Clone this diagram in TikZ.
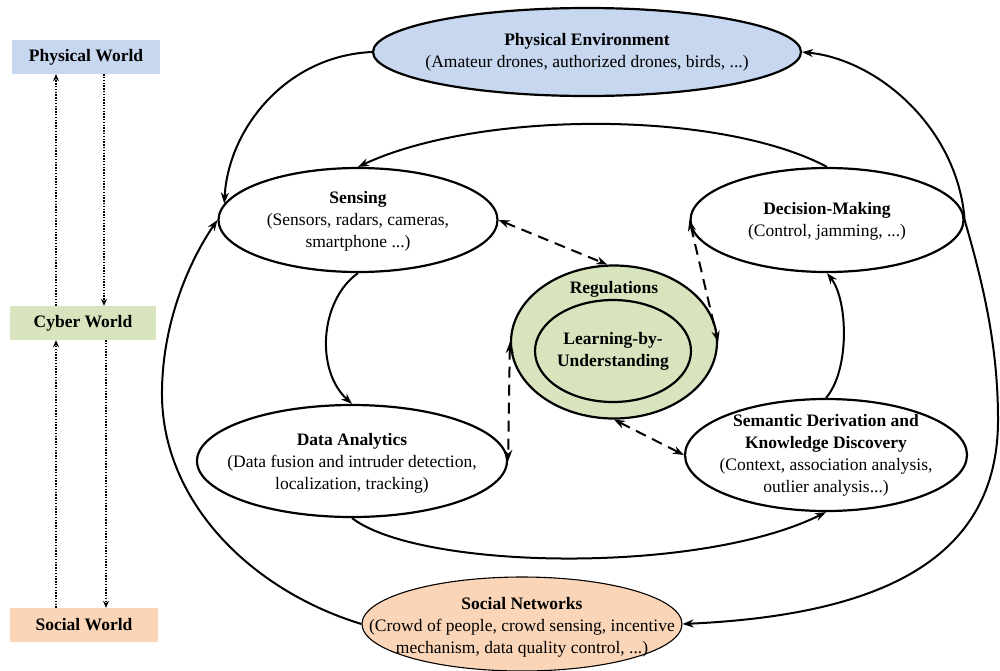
\documentclass[tikz,border=0pt]{standalone}
\usepackage{fontspec}
\setmainfont{Liberation Serif}
\usetikzlibrary{shapes.geometric,arrows.meta}
\definecolor{physblue}{HTML}{C6D7EF}
\definecolor{cybgreen}{HTML}{D7E4BD}
\definecolor{socorange}{HTML}{FBD5B7}
\begin{document}
\begin{tikzpicture}[x=1pt,y=-1pt,
  ell/.style={ellipse,draw,line width=2.2pt,inner sep=0pt},
  txt/.style={align=center,font=\fontsize{17.5}{22}\selectfont,inner sep=0pt},
  world/.style={minimum height=34pt,inner sep=0pt,font=\fontsize{17.5}{21}\selectfont\bfseries},
  flow/.style={line width=2pt,-{Stealth[length=11pt,width=8pt]}},
  link/.style={line width=2pt,dash pattern=on 11pt off 7pt,{Stealth[length=11pt,width=8pt]}-{Stealth[length=11pt,width=8pt]}},
  dotarrow/.style={line width=1.4pt,dash pattern=on 1.4pt off 1.4pt,-{Stealth[length=7pt,width=6pt]}}]
\useasboundingbox (0,0) rectangle (1000,670);
% left column
\node[world,fill=physblue,minimum width=148pt] (pw) at (86,57) {Physical World};
\node[world,fill=cybgreen,minimum width=146pt] (cw) at (83,323) {Cyber World};
\node[world,fill=socorange,minimum width=148pt] (sw) at (84,625) {Social World};
\draw[dotarrow] ([xshift=-27pt]cw.north) -- ([xshift=-30pt]pw.south);
\draw[dotarrow] ([xshift=18pt]pw.south) -- ([xshift=21pt]cw.north);
\draw[dotarrow] ([xshift=-28pt]sw.north) -- ([xshift=-27pt]cw.south);
\draw[dotarrow] ([xshift=23pt]cw.south) -- ([xshift=22pt]sw.north);
% ellipses
\node[ell,fill=physblue,minimum width=428pt,minimum height=88pt] (pe) at (587,52) {};
\node[txt] (pet) at (587,52) {\textbf{Physical Environment}\\(Amateur drones, authorized drones, birds, ...)};
\node[ell,minimum width=279pt,minimum height=104pt] (sens) at (358,220) {};
\node[txt] (senst) at (358,221) {\textbf{Sensing}\\(Sensors, radars, cameras,\\smartphone ...)};
\node[ell,minimum width=273pt,minimum height=104pt] (dec) at (827,220) {};
\node[txt] (dect) at (827,221) {\textbf{Decision-Making}\\(Control, jamming, ...)};
\node[ell,fill=cybgreen,minimum width=206pt,minimum height=153pt] (reg) at (614,342) {};
\node[ell,minimum width=156pt,minimum height=102pt] (lbu) at (613,351) {};
\node[txt,font=\fontsize{17.5}{22}\selectfont\bfseries] (regt) at (614,289) {Regulations};
\node[txt,font=\fontsize{17.5}{22}\selectfont\bfseries] (lbut) at (613,351) {Learning-by-\\Understanding};
\node[ell,minimum width=310pt,minimum height=112pt] (da) at (352,461) {};
\node[txt] (dat) at (352,463) {\textbf{Data Analytics}\\(Data fusion and intruder detection,\\localization, tracking)};
\node[ell,minimum width=282pt,minimum height=112pt] (sem) at (826,455) {};
\node[txt] (semt) at (826,455) {\textbf{Semantic Derivation and}\\\textbf{Knowledge Discovery}\\(Context, association analysis,\\outlier analysis...)};
\node[ell,line width=1.1pt,fill=socorange,minimum width=320pt,minimum height=94pt] (soc) at (522,624) {};
\node[txt] (soct) at (522,627) {\textbf{Social Networks}\\(Crowd of people, crowd sensing, incentive\\mechanism, data quality control, ...)};
% helper coordinates
\coordinate (lb) at (162,390);
\coordinate (rb) at (998,420);
% solid flows
\draw[flow] (pe.west) .. controls (285,56) and (228,130) .. (sens.173);
\draw[flow] (soc.west) .. controls (250,590) and (160,500) .. (lb) .. controls (163,320) and (190,260) .. (sens.west);
\draw[flow] (dec.east) .. controls (958,130) and (880,60) .. (pe.east);
\draw[flow] (dec.east) .. controls (985,290) and (998,350) .. (rb) .. controls (998,560) and (880,615) .. (soc.east);
\draw[flow] (dec.north) .. controls (720,110) and (480,110) .. (sens.north);
\draw[flow] (sens.south) .. controls (320,300) and (315,370) .. (da.north);
\draw[flow] (da.south) .. controls (420,570) and (700,575) .. (sem.south);
\draw[flow] (sem.north) .. controls (850,370) and (848,300) .. (dec.south);
% dashed links
\draw[link] (sens.east) -- (reg.95);
\draw[link] (dec.west) -- (reg.east);
\draw[link] (reg.west) -- (da.east);
\draw[link] (reg.south) -- (sem.west);
\end{tikzpicture}
\end{document}
